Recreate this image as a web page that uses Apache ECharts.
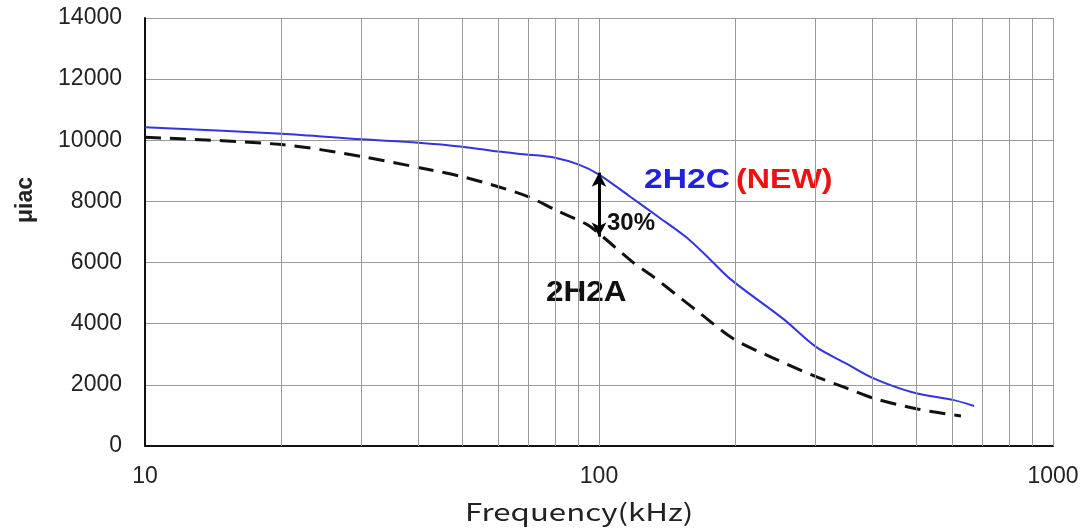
<!DOCTYPE html>
<html>
<head>
<meta charset="utf-8">
<script src="https://cdn.jsdelivr.net/npm/echarts@6/dist/echarts.min.js"></script>
<style>html,body{margin:0;padding:0;background:#fff}#c{width:1084px;height:528px}</style>
</head>
<body>
<div id="c"></div>
<script>
// frequency (kHz) and initial permeability values
var freq2H2C = [10, 20, 30, 40, 50, 60, 70, 80, 90, 100, 117, 135, 155, 173, 195, 255, 300, 350, 400, 490, 605, 670];
var mu2H2C   = [10430, 10210, 10030, 9920, 9790, 9630, 9530, 9430, 9210, 8880, 8160, 7500, 6850, 6200, 5450, 4150, 3250, 2700, 2230, 1760, 1500, 1310];
var freq2H2A = [10, 20, 30, 40, 50, 60, 70, 80, 94, 100, 119, 130, 153, 167, 198, 240, 295, 350, 403, 503, 627];
var mu2H2A   = [10100, 9860, 9470, 9110, 8810, 8480, 8150, 7730, 7250, 6950, 6000, 5600, 4780, 4340, 3500, 2900, 2320, 1900, 1560, 1210, 980];
var yTicks = [0, 2000, 4000, 6000, 8000, 10000, 12000, 14000];
var xGrid = [20, 30, 40, 50, 60, 70, 80, 90, 100, 200, 300, 400, 500, 600, 700, 800, 900, 1000];
var arrowFreq = 100, arrowTop = 8940, arrowBottom = 6850;

function pairs(xs, ys) { return xs.map(function (x, i) { return [x, ys[i]]; }); }

var chart = echarts.init(document.getElementById('c'));
var font = 'Liberation Sans, Arial, sans-serif';
chart.setOption({
  animation: false,
  backgroundColor: '#fff',
  grid: { left: 145, right: 31, top: 18, bottom: 82 },
  xAxis: {
    type: 'log', logBase: 10, min: 10, max: 1000,
    axisLine: { show: true, lineStyle: { color: '#111', width: 2 } },
    axisTick: { show: false },
    splitLine: { show: false },
    axisLabel: { fontFamily: font, fontSize: 23, color: '#222', margin: 19,
      formatter: function (v) { return String(Math.round(v)); } }
  },
  yAxis: {
    type: 'value', min: 0, max: 14000, interval: 2000,
    axisLine: { show: true, lineStyle: { color: '#111', width: 2 } },
    axisTick: { show: false },
    splitLine: { show: true, lineStyle: { color: '#9a9a9a', width: 1 } },
    axisLabel: { fontFamily: font, fontSize: 23, color: '#222', margin: 23,
      formatter: function (v) { return yTicks.indexOf(v) >= 0 ? String(v) : ''; } }
  },
  graphic: [
    { type: 'text', x: 14, y: 223, rotation: Math.PI / 2,
      style: { text: 'μiac', font: 'bold 23px ' + font, fill: '#222', textAlign: 'left', textVerticalAlign: 'top' } },
    { type: 'text', x: 465, y: 500, scaleX: 1.3,
      style: { text: 'Frequency(kHz)', font: '24px Noto Sans CJK JP, sans-serif', fill: '#222' } },
    { type: 'text', x: 644, y: 166, scaleX: 1.2,
      style: { text: '2H2C', font: 'bold 28px ' + font, fill: '#2222dd' } },
    { type: 'text', x: 736, y: 166, scaleX: 1.15,
      style: { text: '(NEW)', font: 'bold 28px ' + font, fill: '#ee1111' } },
    { type: 'text', x: 607, y: 211,
      style: { text: '30%', font: 'bold 24px ' + font, fill: '#111' } },
    { type: 'text', x: 546, y: 278, scaleX: 1.05,
      style: { text: '2H2A', font: 'bold 30px ' + font, fill: '#111' } }
  ],
  series: [
    {
      name: 'grid', type: 'line', data: [], silent: true,
      markLine: {
        silent: true, symbol: ['none', 'none'], label: { show: false },
        lineStyle: { color: '#9a9a9a', width: 1, type: 'solid' },
        data: xGrid.map(function (v) { return { xAxis: v }; })
      }
    },
    {
      name: '2H2C', type: 'line', data: pairs(freq2H2C, mu2H2C), smooth: 0.3,
      showSymbol: false, lineStyle: { color: '#3333e0', width: 2 }
    },
    {
      name: '2H2A', type: 'line', data: pairs(freq2H2A, mu2H2A), smooth: 0.3,
      showSymbol: false, lineStyle: { color: '#111', width: 3, type: [16, 9] }
    },
    {
      name: 'arrow', type: 'line', data: [], silent: true,
      markLine: {
        silent: true, symbol: ['arrow', 'arrow'], symbolSize: [11, 14], label: { show: false },
        lineStyle: { color: '#000', width: 3, type: 'solid' },
        data: [[{ coord: [arrowFreq, arrowTop] }, { coord: [arrowFreq, arrowBottom] }]]
      }
    }
  ]
});
</script>
</body>
</html>
